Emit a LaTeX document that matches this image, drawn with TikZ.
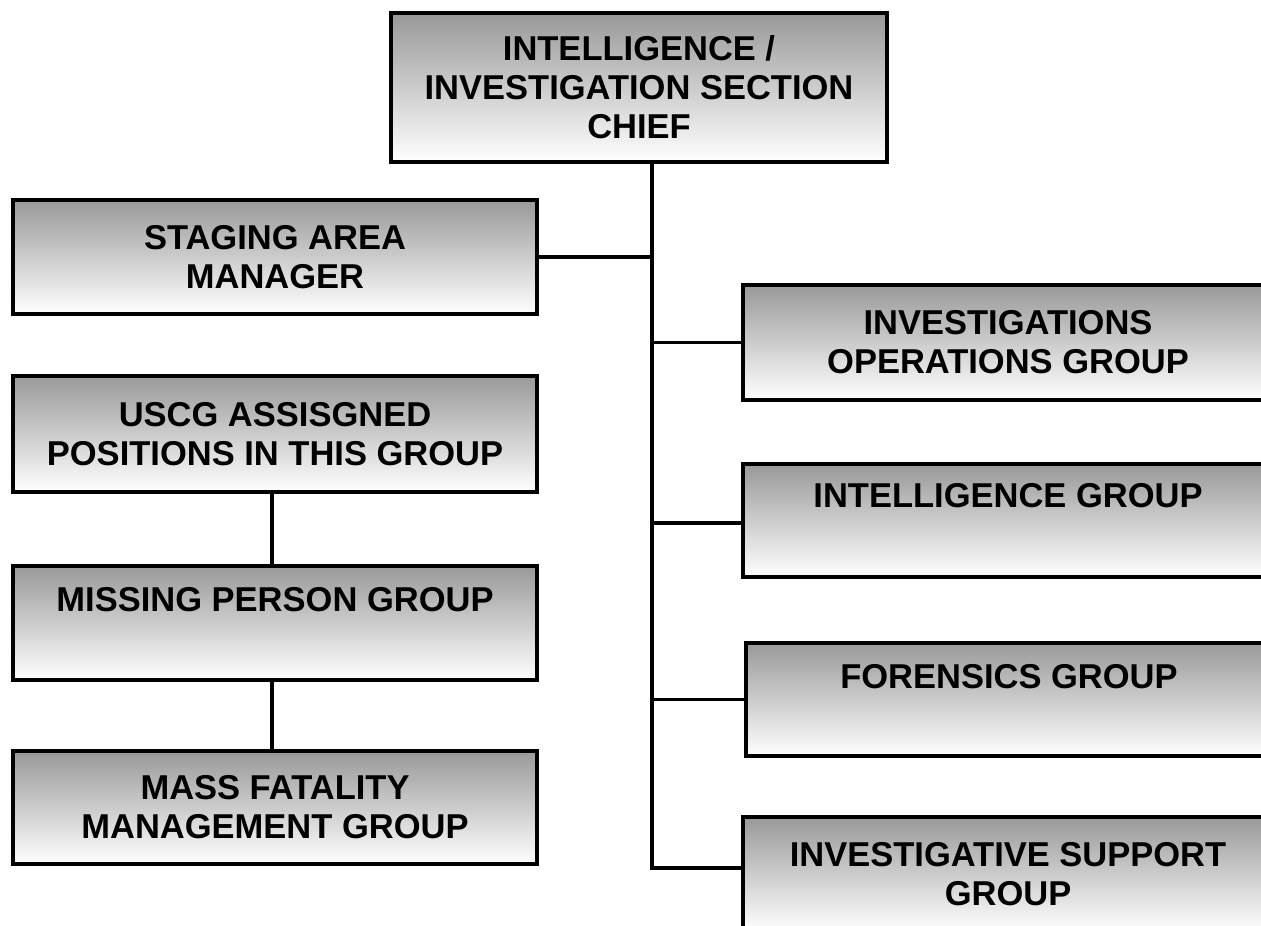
\documentclass[tikz,border=0pt]{standalone}
\usepackage{fontspec}
\setmainfont{Liberation Sans}
\begin{document}
\begin{tikzpicture}[x=1pt,y=-1pt,
  box/.style={draw=black, line width=4pt, rectangle, inner sep=0pt,
    top color=black!40, bottom color=white, align=center,
    font=\bfseries\fontsize{34.5}{39}\selectfont},
  link/.style={line width=3.6pt}]
\useasboundingbox (0,0) rectangle (1261,926);
\clip (0,0) rectangle (1261,926);
% top
\node[box, minimum width=496pt, minimum height=149pt] (chief) at (639,87.5)
  {INTELLIGENCE /\\INVESTIGATION SECTION\\CHIEF};
% left column
\node[box, minimum width=524pt, minimum height=114pt] (staging) at (275,257)
  {STAGING AREA\\MANAGER};
\node[box, minimum width=524pt, minimum height=116pt] (uscg) at (275,434)
  {USCG ASSISGNED\\POSITIONS IN THIS GROUP};
\node[box, minimum width=524pt, minimum height=114pt] (missing) at (275,623)
  {MISSING PERSON GROUP\\[9pt]\mbox{}};
\node[box, minimum width=524pt, minimum height=113pt] (mass) at (275,807.5)
  {MASS FATALITY\\MANAGEMENT GROUP};
% right column
\node[box, minimum width=530pt, minimum height=115pt] (invops) at (1008,342.5)
  {INVESTIGATIONS\\OPERATIONS GROUP};
\node[box, minimum width=530pt, minimum height=113pt] (intel) at (1008,520.5)
  {INTELLIGENCE GROUP\\[11pt]\mbox{}};
\node[box, minimum width=526pt, minimum height=113pt] (forensics) at (1009,699.5)
  {FORENSICS GROUP\\[8pt]\mbox{}};
\node[box, minimum width=530pt, minimum height=114pt] (support) at (1008,874)
  {INVESTIGATIVE SUPPORT\\GROUP};
% trunk
\coordinate (t0) at (652,162);
\coordinate (t1) at (652,868);
\coordinate (ci) at (652,523);
\coordinate (lx) at (272,0);
\draw[link, line join=miter] (t0) -- (t1) -- (t1 -| support.west);
\draw[link] (staging.east) -- (staging.east -| t0);
\draw[link] (invops.west -| t0) -- (invops.west);
\draw[link] (ci) -- (ci -| intel.west);
\draw[link] (forensics.west -| t0) -- (forensics.west);
\draw[link] (uscg.south -| lx) -- (missing.north -| lx);
\draw[link] (missing.south -| lx) -- (mass.north -| lx);
\end{tikzpicture}
\end{document}
